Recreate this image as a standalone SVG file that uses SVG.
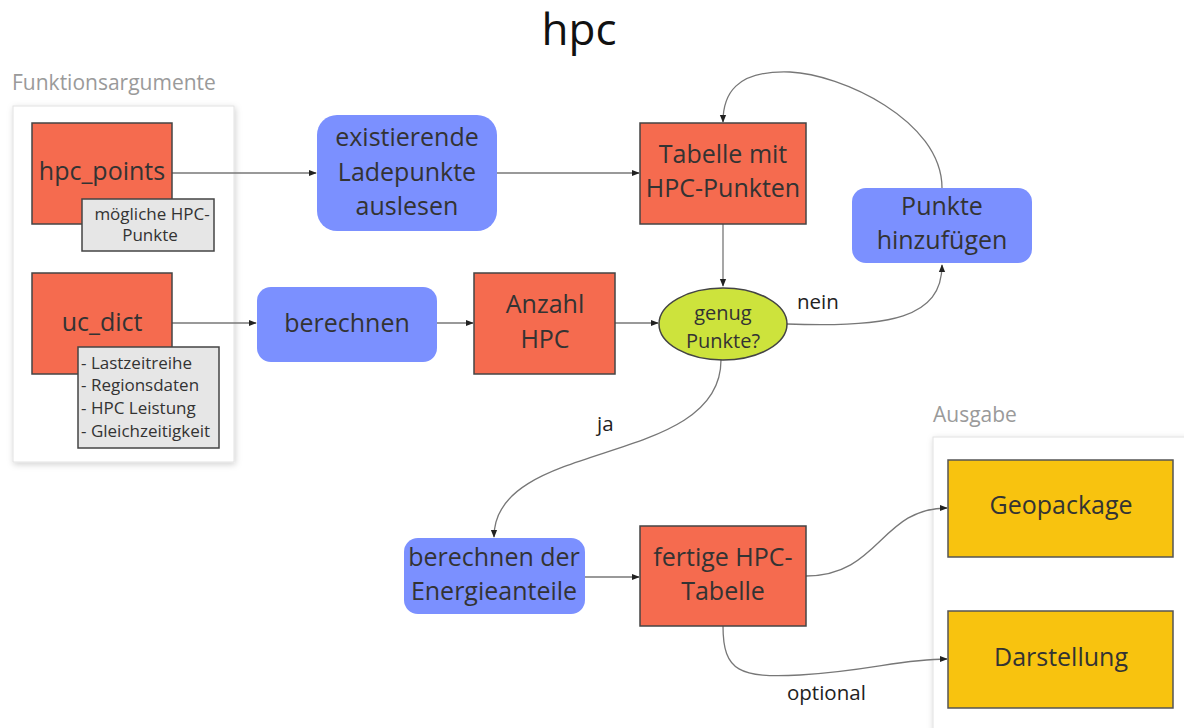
<svg xmlns="http://www.w3.org/2000/svg" width="1184" height="728" viewBox="0 0 1184 728">
  <defs>
    <marker id="arrow" viewBox="0 0 10 10" refX="9" refY="5" markerWidth="8" markerHeight="8" markerUnits="userSpaceOnUse" orient="auto">
      <path d="M0,1 L10,5 L0,9 z" fill="#222"/>
    </marker>
    <filter id="shadow" x="-10%" y="-10%" width="120%" height="120%">
      <feDropShadow dx="1" dy="2" stdDeviation="3" flood-color="#000" flood-opacity="0.18"/>
    </filter>
  </defs>
  <style>
    text { font-family: "Open Sans", "Noto Sans", "DejaVu Sans", sans-serif; fill: #333; }
    .title { font-size: 44px; fill: #111; }
    .group-label { font-size: 21px; fill: #9a9a9a; }
    .container { fill: #fff; stroke: #e2e2e2; stroke-width: 1; }
    .red { fill: #f56b4f; stroke: #444; stroke-width: 1.5; }
    .blue { fill: #7b90ff; }
    .yellow { fill: #f8c30f; stroke: #555; stroke-width: 1.5; }
    .decision { fill: #cde33c; stroke: #444; stroke-width: 1.5; }
    .note { fill: #e6e6e6; stroke: #444; stroke-width: 1.5; }
    .lbl { font-size: 25px; text-anchor: middle; }
    .small { font-size: 20px; text-anchor: middle; }
    .note-text { font-size: 17px; }
    .edge-label { font-size: 20.5px; fill: #222; }
    .edge { fill: none; stroke: #777; stroke-width: 1.3; marker-end: url(#arrow); }
  </style>

  <rect width="1184" height="728" fill="#fff"/>

  <text class="title" x="579" y="45" text-anchor="middle">hpc</text>

  <!-- input arguments -->
  <g id="funktionsargumente">
    <text class="group-label" x="12" y="90">Funktionsargumente</text>
    <rect class="container" x="13" y="106" width="221" height="356" filter="url(#shadow)"/>
  </g>

  <!-- output -->
  <g id="ausgabe">
    <text class="group-label" x="933" y="422">Ausgabe</text>
    <rect class="container" x="933" y="437" width="260" height="300" filter="url(#shadow)"/>
  </g>

  <!-- connectors -->
  <g id="connectors">
    <path class="edge" d="M172,173 L316,173"/>
    <path class="edge" d="M497,173 L639,173"/>
    <path class="edge" d="M172,323 L256,323"/>
    <path class="edge" d="M437,323 L473,323"/>
    <path class="edge" d="M615,323 L658,323"/>
    <path class="edge" d="M723,224 L723,286"/>
    <path class="edge" d="M942,188 C942,120 840,74 790,72 C735,70 723,95 723,122"/>
    <path class="edge" d="M787,324 C890,328 942,318 942,265"/>
    <path class="edge" d="M721,360 C721,468 494,438 494,537"/>
    <path class="edge" d="M585,577 L639,577"/>
    <path class="edge" d="M806,576 C880,576 880,508 947,508"/>
    <path class="edge" d="M723,626 C723,672 740,678 800,675 C870,671 900,659 947,659"/>
    <text class="edge-label" x="797" y="309">nein</text>
    <text class="edge-label" x="597" y="431">ja</text>
    <text class="edge-label" x="787" y="700">optional</text>
  </g>

  <g id="hpc_points">
    <rect class="red" x="32" y="123" width="140" height="101"/>
    <text class="lbl" x="102" y="180">hpc_points</text>
  </g>
  <g id="hpc_points_note">
    <rect class="note" x="82" y="199" width="132" height="52"/>
    <text class="note-text" x="152" y="220" text-anchor="middle">mögliche HPC-</text>
    <text class="note-text" x="150" y="241" text-anchor="middle">Punkte</text>
  </g>

  <g id="uc_dict">
    <rect class="red" x="32" y="273" width="140" height="101"/>
    <text class="lbl" x="102" y="331">uc_dict</text>
  </g>
  <g id="uc_dict_note">
    <rect class="note" x="78" y="347" width="141" height="101"/>
    <text class="note-text" x="81" y="369">- Lastzeitreihe</text>
    <text class="note-text" x="81" y="391">- Regionsdaten</text>
    <text class="note-text" x="81" y="414">- HPC Leistung</text>
    <text class="note-text" x="81" y="437">- Gleichzeitigkeit</text>
  </g>

  <g id="ladepunkte_auslesen">
    <rect class="blue" x="317" y="115" width="180" height="116" rx="20"/>
    <text class="lbl" x="407" y="146">existierende</text>
    <text class="lbl" x="407" y="181">Ladepunkte</text>
    <text class="lbl" x="407" y="215">auslesen</text>
  </g>

  <g id="tabelle_hpc_punkte">
    <rect class="red" x="640" y="123" width="166" height="101"/>
    <text class="lbl" x="723" y="163">Tabelle mit</text>
    <text class="lbl" x="723" y="197">HPC-Punkten</text>
  </g>

  <g id="punkte_hinzufuegen">
    <rect class="blue" x="852" y="188" width="180" height="75" rx="14"/>
    <text class="lbl" x="942" y="215">Punkte</text>
    <text class="lbl" x="942" y="249">hinzufügen</text>
  </g>

  <g id="berechnen">
    <rect class="blue" x="257" y="287" width="180" height="75" rx="14"/>
    <text class="lbl" x="347" y="332">berechnen</text>
  </g>

  <g id="anzahl_hpc">
    <rect class="red" x="474" y="273" width="141" height="101"/>
    <text class="lbl" x="545" y="313">Anzahl</text>
    <text class="lbl" x="545" y="348">HPC</text>
  </g>

  <g id="genug_punkte">
    <ellipse class="decision" cx="723" cy="324" rx="64" ry="36"/>
    <text class="small" x="723" y="320">genug</text>
    <text class="small" x="723" y="348">Punkte?</text>
  </g>

  <g id="energieanteile">
    <rect class="blue" x="404" y="538" width="181" height="76" rx="14"/>
    <text class="lbl" x="494" y="566">berechnen der</text>
    <text class="lbl" x="494" y="600">Energieanteile</text>
  </g>

  <g id="fertige_tabelle">
    <rect class="red" x="640" y="526" width="166" height="100"/>
    <text class="lbl" x="723" y="566">fertige HPC-</text>
    <text class="lbl" x="723" y="600">Tabelle</text>
  </g>

  <g id="geopackage">
    <rect class="yellow" x="948" y="460" width="225" height="97"/>
    <text class="lbl" x="1061" y="514">Geopackage</text>
  </g>

  <g id="darstellung">
    <rect class="yellow" x="948" y="611" width="225" height="97"/>
    <text class="lbl" x="1061" y="666">Darstellung</text>
  </g>
</svg>
